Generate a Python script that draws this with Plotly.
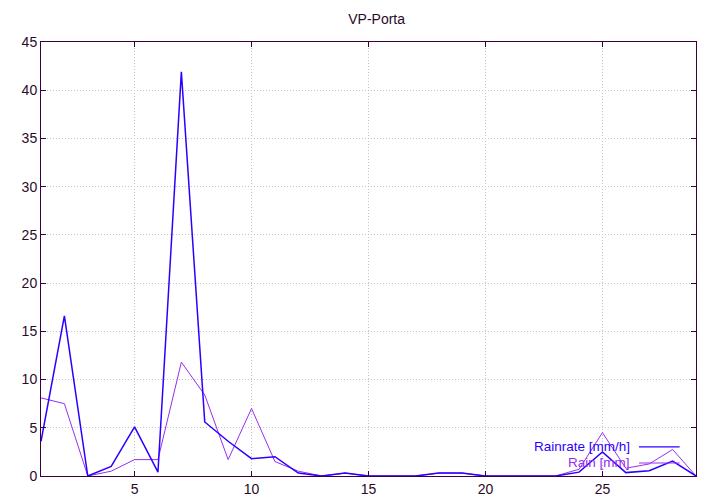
import plotly.graph_objects as go

days = list(range(1, 30))
rainrate = [3.6, 16.6, 0.0, 1.0, 5.1, 0.4, 41.9, 5.6, 3.6, 1.8, 2.0, 0.3, 0.0, 0.3, 0.0,
            0.0, 0.0, 0.3, 0.3, 0.0, 0.0, 0.0, 0.0, 0.4, 2.5, 0.35, 0.55, 1.55, 0.0]
rain = [8.1, 7.5, 0.0, 0.5, 1.7, 1.7, 11.8, 8.4, 1.7, 7.0, 1.5, 0.5, 0.0, 0.3, 0.0,
        0.0, 0.0, 0.3, 0.3, 0.0, 0.0, 0.0, 0.0, 0.7, 4.5, 0.8, 1.25, 2.75, 0.0]
series_names = ["Rainrate [mm/h]", "Rain [mm]"]
colors = ["#2b00ff", "#9a2cf0"]

fig = go.Figure()
fig.add_trace(go.Scatter(x=days, y=rain, mode="lines", line=dict(color=colors[1], width=1),
                         showlegend=False))
fig.add_trace(go.Scatter(x=days, y=rainrate, mode="lines", line=dict(color=colors[0], width=1.5),
                         showlegend=False))

axis_color = "#3d003d"
fam = "Liberation Sans, Arial, sans-serif"
font = dict(family=fam, size=14, color="#2a0a2a")

fig.update_layout(
    width=720, height=504,
    margin=dict(l=33, r=32, t=34, b=36),
    paper_bgcolor="white", plot_bgcolor="white",
    font=font,
    title=dict(text="VP-Porta", x=0.512, xanchor="center", y=0.978, yanchor="middle",
               font=dict(size=14, color="#2a0a2a", family=fam)),
    xaxis=dict(range=[1, 29], tickvals=[5, 10, 15, 20, 25], ticks="inside", ticklen=5,
               showline=True, linecolor=axis_color, linewidth=1, mirror="ticks",
               tickcolor=axis_color, showgrid=True, gridcolor="#c4c4c4", griddash="1px,2px",
               gridwidth=1, zeroline=False),
    yaxis=dict(range=[0, 45], tickvals=list(range(0, 50, 5)), ticks="inside", ticklen=5,
               showline=True, linecolor=axis_color, linewidth=1, mirror="ticks",
               tickcolor=axis_color, showgrid=True, gridcolor="#c4c4c4", griddash="1px,2px",
               gridwidth=1, zeroline=False),
)

# gnuplot-style key: text then sample line, bottom-right
key_rows = [(0.067, series_names[0], colors[0]), (0.030, series_names[1], colors[1])]
for ypos, name, col in key_rows:
    fig.add_annotation(x=0.901, y=ypos, xref="paper", yref="paper", text=name,
                       showarrow=False, xanchor="right", yanchor="middle", borderpad=0,
                       font=dict(size=13.5, color=col, family=fam))
    fig.add_shape(type="line", xref="paper", yref="paper", x0=0.913, x1=0.975,
                  y0=ypos, y1=ypos, line=dict(color=col, width=1.2))

fig.write_html("out.html")
